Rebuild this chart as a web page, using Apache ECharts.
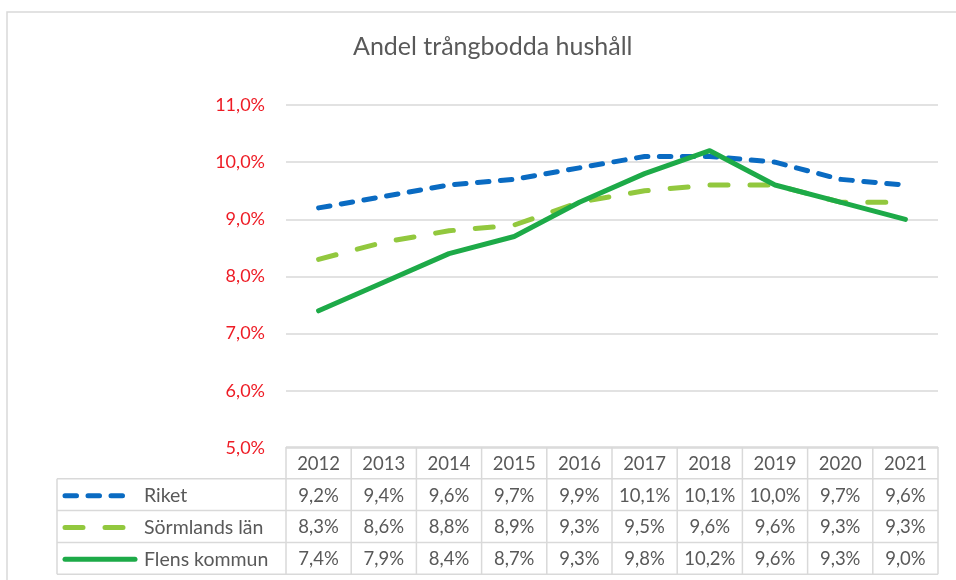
<!DOCTYPE html>
<html>
<head>
<meta charset="utf-8">
<script src="https://cdn.jsdelivr.net/npm/echarts@6/dist/echarts.min.js"></script>
<style>
  html, body { margin: 0; padding: 0; background: #fff; }
  #chart { width: 956px; height: 580px; }
</style>
</head>
<body>
<div id="chart"></div>
<script>
// Share of overcrowded households, 2012–2021 (percent)
var years = ['2012', '2013', '2014', '2015', '2016', '2017', '2018', '2019', '2020', '2021'];
var riket = [9.2, 9.4, 9.6, 9.7, 9.9, 10.1, 10.1, 10.0, 9.7, 9.6];
var sormland = [8.3, 8.6, 8.8, 8.9, 9.3, 9.5, 9.6, 9.6, 9.3, 9.3];
var flen = [7.4, 7.9, 8.4, 8.7, 9.3, 9.8, 10.2, 9.6, 9.3, 9.0];
var seriesNames = ['Riket', 'Sörmlands län', 'Flens kommun'];
var titleText = 'Andel trångbodda hushåll';

var FONT = 'Lato, "Open Sans", sans-serif';
var GRID_COLOR = '#d9d9d9';
var TEXT_GREY = '#595959';

var styles = [
  { color: '#0A6BC2', dash: [11.5, 11.5], width: 5 },
  { color: '#92C83E', dash: [18, 22], width: 5 },
  { color: '#1DAA48', dash: null, width: 5 }
];
var data = [riket, sormland, flen];

function pct(v) { return v.toFixed(1).replace('.', ',') + '%'; }

var chart = echarts.init(document.getElementById('chart'), null, { renderer: 'canvas' });

chart.setOption({
  animation: false,
  backgroundColor: '#fff',
  title: {
    text: titleText,
    left: 348,
    top: 29,
    textStyle: { fontFamily: FONT, fontSize: 25, fontWeight: 'normal', color: TEXT_GREY }
  },
  grid: { left: 286, right: 18, top: 105, bottom: 132, containLabel: false },
  xAxis: {
    type: 'category',
    data: years,
    boundaryGap: true,
    axisLine: { show: false },
    axisTick: { show: false },
    axisLabel: { show: false },
    splitLine: { show: false }
  },
  yAxis: {
    type: 'value',
    min: 5,
    max: 11,
    interval: 1,
    axisLine: { show: false },
    axisTick: { show: false },
    axisLabel: {
      margin: 21,
      formatter: function (v) { return pct(v); },
      color: '#EE1C25',
      fontFamily: FONT,
      fontSize: 18
    },
    splitLine: { lineStyle: { color: GRID_COLOR, width: 1.5 } }
  },
  series: seriesNames.map(function (name, i) {
    return {
      name: name,
      type: 'line',
      data: data[i],
      symbol: 'none',
      z: 3 + i,
      lineStyle: {
        color: styles[i].color,
        width: styles[i].width,
        type: styles[i].dash || 'solid',
        cap: 'round',
        join: 'round'
      }
    };
  })
});

// Data table under the plot, aligned with the category axis
(function buildTable() {
  var c0 = chart.convertToPixel({ xAxisIndex: 0 }, years[0]);
  var c1 = chart.convertToPixel({ xAxisIndex: 0 }, years[1]);
  var colW = c1 - c0;
  var tableLeft = c0 - colW / 2;
  var tableRight = tableLeft + colW * years.length;
  var top = chart.convertToPixel({ yAxisIndex: 0 }, 5) - 1;
  var rowH = 31.8;
  var legendLeft = 57;
  var els = [];
  var lineStyle = { stroke: GRID_COLOR, lineWidth: 1.5 };

  // outer chart frame
  els.push({ type: 'rect', shape: { x: 7, y: 12, width: 1000, height: 620 },
    style: { fill: null, stroke: GRID_COLOR, lineWidth: 1.5 }, silent: true });

  // horizontal rules
  els.push({ type: 'line', shape: { x1: tableLeft, y1: top, x2: tableRight, y2: top }, style: lineStyle });
  for (var r = 1; r <= 4; r++) {
    var y = top + rowH * r;
    els.push({ type: 'line', shape: { x1: legendLeft, y1: y, x2: tableRight, y2: y }, style: lineStyle });
  }
  var bottom = top + rowH * 4;
  // vertical rules
  els.push({ type: 'line', shape: { x1: legendLeft, y1: top + rowH, x2: legendLeft, y2: bottom }, style: lineStyle });
  for (var k = 0; k <= years.length; k++) {
    var x = tableLeft + colW * k;
    els.push({ type: 'line', shape: { x1: x, y1: top, x2: x, y2: bottom }, style: lineStyle });
  }

  var textStyle = function (txt, x, y, align, size) {
    return { type: 'text', x: x, y: y,
      style: { text: txt, fill: TEXT_GREY, font: (size || 18.5) + 'px ' + FONT,
        textAlign: align || 'center', textVerticalAlign: 'middle' } };
  };

  // header row: years
  years.forEach(function (yr, i) {
    els.push(textStyle(yr, tableLeft + colW * (i + 0.5), top + rowH / 2 + 1));
  });

  // value rows with legend keys
  data.forEach(function (arr, si) {
    var cy = top + rowH * (si + 1.5) + 1;
    arr.forEach(function (v, i) {
      els.push(textStyle(pct(v), tableLeft + colW * (i + 0.5), cy));
    });
    var st = styles[si];
    var x2 = si === 2 ? 135 : 128;
    els.push({ type: 'line', shape: { x1: 65, y1: cy, x2: x2, y2: cy },
      style: { stroke: st.color, lineWidth: 5, lineCap: 'round', lineDash: st.dash || null } });
    els.push(textStyle(seriesNames[si], 144, cy, 'left', 19.5));
  });

  chart.setOption({ graphic: els });
})();
</script>
</body>
</html>
